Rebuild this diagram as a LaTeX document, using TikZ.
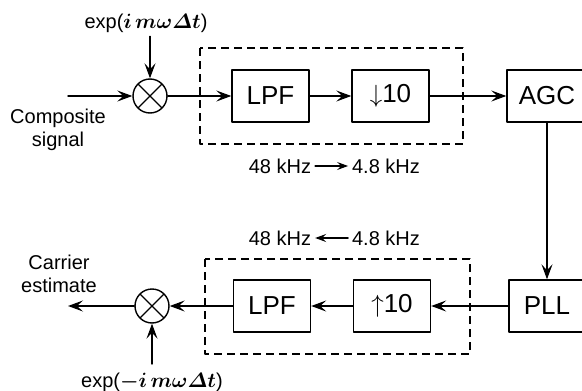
\documentclass[tikz,border=0pt]{standalone}
\usepackage{amsmath,bm}
\usepackage{fontspec}
\setmainfont{Liberation Sans}
\usetikzlibrary{arrows.meta,positioning}
\begin{document}
\begin{tikzpicture}[x=1pt,y=-1pt,>={Stealth[length=15pt,width=11pt,inset=6pt]},
	font=\fontsize{20}{23}\selectfont, line join=round, line cap=round, line width=1.4pt]
	\tikzset{blok/.style={draw, minimum width=77pt, minimum height=52pt, inner sep=0pt, font=\fontsize{26}{30}\selectfont},
		mixer/.style={draw, circle, minimum size=34pt, inner sep=0pt,
			path picture={\draw (path picture bounding box.north west)--(path picture bounding box.south east)
				(path picture bounding box.north east)--(path picture bounding box.south west);}},
		grup/.style={dash pattern=on 8pt off 5pt, line cap=butt},
		rate/.style={-{Stealth[length=11pt,width=8pt,inset=4pt]}}}
	\def\ya{96} \def\yb{306} % rows
	\useasboundingbox (0,0) rectangle (582,391);
	\clip (0,0) rectangle (582,391);
	% upper row
	\draw[grup] (200,48) rectangle (463,144);
	\node[mixer] (mixA) at (150,\ya) {};
	\node[blok] (lpfA) at (270.5,\ya) {LPF};
	\node[blok] (decim) at (390.5,\ya) {$\downarrow$10};
	\node[blok, minimum width=80pt] (agc) at (547,\ya) {AGC};
	\node (expA) at (146,23) {exp($\bm{i\,m\omega\varDelta t}$)};
	\node[align=center] (comp) at (58,130) {Composite\\signal};
	\coordinate (inA) at (68,\ya);
	\node (fastA) at (280,166) {48 kHz};
	\node (slowA) at (386,166) {4.8 kHz};
	% lower row
	\draw[grup] (205,259) rectangle (470,354);
	\node[blok, minimum width=76pt] (pll) at (547,\yb) {PLL};
	\node[blok] (interp) at (392,\yb) {$\uparrow$10};
	\node[blok] (lpfB) at (272,\yb) {LPF};
	\node[mixer] (mixB) at (152,\yb) {};
	\node (expB) at (152,382) {exp($\bm{-i\,m\omega\varDelta t}$)};
	\node[align=center] (carr) at (59,274) {Carrier\\estimate};
	\coordinate (outB) at (68,\yb);
	\coordinate (inB) at (152,364);
	\node (fastB) at (280,238) {48 kHz};
	\node (slowB) at (386,238) {4.8 kHz};
	% connectors
	\draw[->] (expA.south -| mixA) -- (mixA);
	\draw[->] (inA) -- (mixA);
	\draw[->] (mixA) -- (lpfA);
	\draw[->] (lpfA) -- (decim);
	\draw[->] (decim) -- (agc);
	\draw[->] (agc) -- (pll);
	\draw[->] (pll) -- (interp);
	\draw[->] (interp) -- (lpfB);
	\draw[->] (lpfB) -- (mixB);
	\draw[->] (mixB) -- (outB);
	\draw[->] (inB) -- (mixB);
	\draw[rate] (fastA) -- (slowA);
	\draw[rate] (slowB) -- (fastB);
\end{tikzpicture}
\end{document}
